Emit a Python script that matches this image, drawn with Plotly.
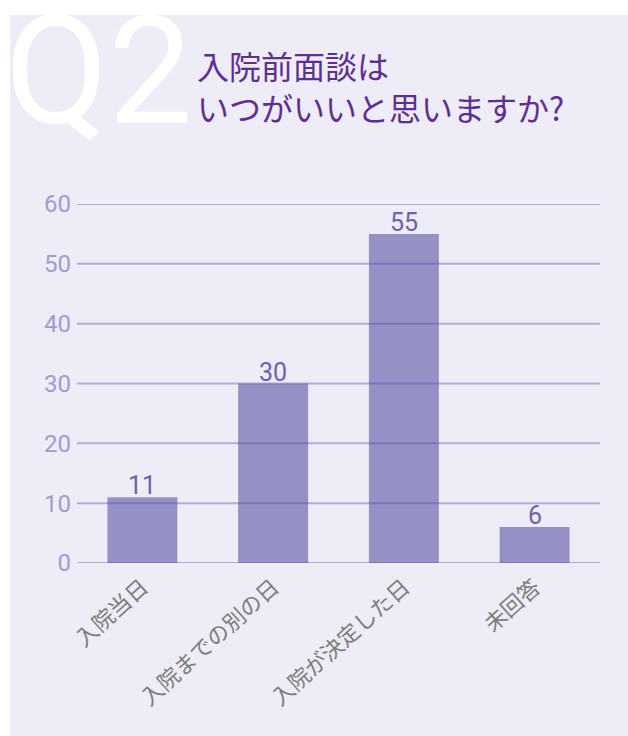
import plotly.graph_objects as go

categories = ["入院当日", "入院までの別の日", "入院が決定した日", "未回答"]
values = [11, 30, 55, 6]
y_ticks = [0, 10, 20, 30, 40, 50, 60]
title_text = "入院前面談は<br>いつがいいと思いますか?"
badge_text = "Q2"

W, H = 628, 736
L, R, T, B = 77, 28, 204, 173
pw, ph = W - L - R, H - T - B

def px_x(x):
    return (x - L) / pw

def px_y(y):
    return (H - B - y) / ph

BG = "#eeecf6"
BAR = "#9591c5"
GRID = "rgba(80,70,165,0.38)"

fig = go.Figure()
fig.add_trace(go.Bar(
    x=categories, y=values,
    marker=dict(color=BAR, line=dict(width=0)),
    width=0.535,
    hoverinfo="x+y",
))

shapes = [dict(type="rect", xref="paper", yref="paper",
               x0=px_x(10), x1=px_x(W + 5), y0=px_y(15), y1=px_y(H + 5),
               fillcolor=BG, line=dict(width=0), layer="below")]
for t in y_ticks:
    shapes.append(dict(type="line", xref="paper", yref="y", x0=0, x1=1, y0=t, y1=t,
                       line=dict(color=GRID, width=2), layer="above"))

annotations = [
    dict(text=badge_text, xref="paper", yref="paper", x=px_x(3), y=px_y(162),
         xanchor="left", yanchor="bottom", showarrow=False,
         font=dict(family="Roboto", size=150, color="white", weight=400)),
    dict(text=title_text, xref="paper", yref="paper", x=px_x(195), y=px_y(40),
         xanchor="left", yanchor="top", align="left", showarrow=False,
         font=dict(family="Noto Sans CJK JP", size=32, color="#5e2f93")),
]
for c, v in zip(categories, values):
    annotations.append(dict(text=str(v), x=c, y=v, xref="x", yref="y",
                            xanchor="center", yanchor="bottom", showarrow=False,
                            yshift=-5,
                            font=dict(family="Roboto", size=25, color="#6b63ae")))

fig.update_layout(
    width=W, height=H,
    margin=dict(l=L, r=R, t=T, b=B, pad=0),
    paper_bgcolor="white", plot_bgcolor="rgba(0,0,0,0)",
    showlegend=False,
    shapes=shapes,
    annotations=annotations,
    bargap=0.465,
    xaxis=dict(showgrid=False, showline=False, zeroline=False, ticks="",
               tickangle=-42, ticklabelstandoff=6,
               tickfont=dict(family="Noto Sans CJK JP", size=22, color="#7c7c7c")),
    yaxis=dict(range=[0, 60], tickvals=y_ticks, showgrid=False, zeroline=False,
               showline=False, ticks="", ticklabelstandoff=5,
               tickfont=dict(family="Roboto", size=24, color="#a19cd3")),
)

fig.write_html("out.html")
